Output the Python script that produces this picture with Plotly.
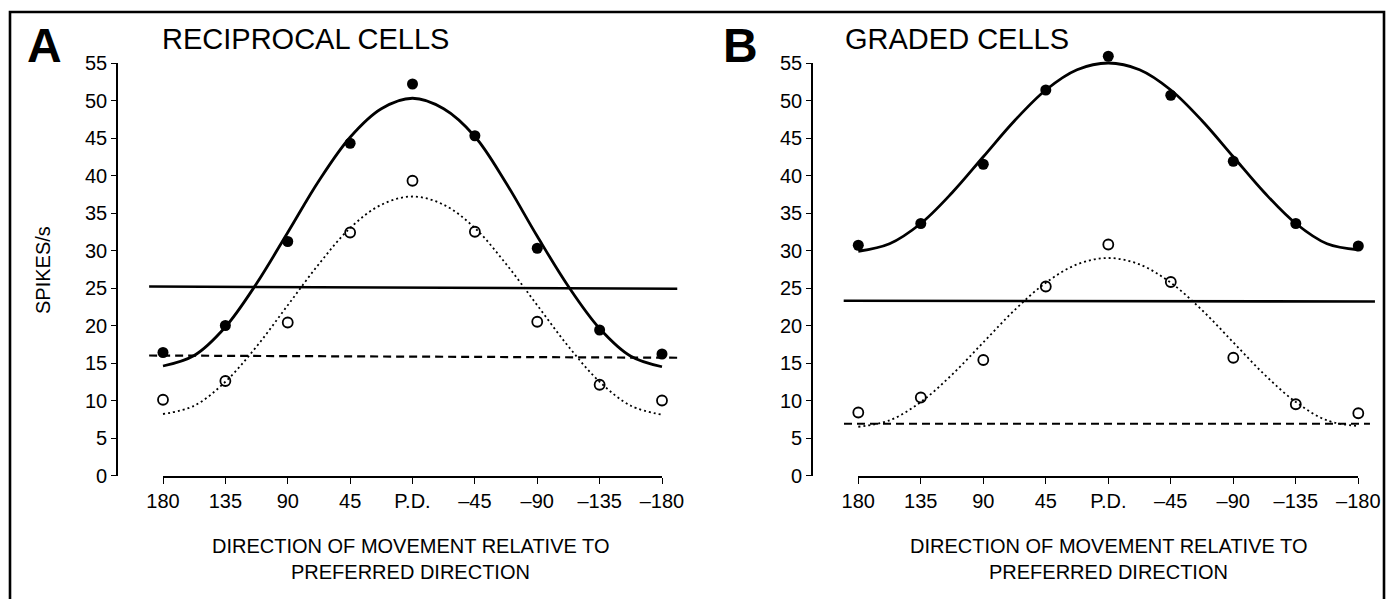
import plotly.graph_objects as go

# ---------------- data ----------------
directions = [180, 135, 90, 45, 0, -45, -90, -135, -180]
tick_text = ["180", "135", "90", "45", "P.D.", "–45", "–90", "–135", "–180"]
fit_dirs = [180, 157.5, 135, 112.5, 90, 67.5, 45, 22.5, 0,
            -22.5, -45, -67.5, -90, -112.5, -135, -157.5, -180]

# Panel A: reciprocal cells
a_filled = [16.4, 20.0, 31.2, 44.3, 52.2, 45.3, 30.3, 19.4, 16.2]
a_open = [10.1, 12.6, 20.4, 32.4, 39.3, 32.5, 20.5, 12.1, 10.0]
a_fit_solid = [14.6, 16.0, 19.8, 25.6, 32.4, 39.3, 45.1, 48.9, 50.3,
               48.9, 45.2, 39.0, 31.9, 25.2, 19.6, 15.9, 14.5]
a_fit_dotted = [8.2, 9.3, 12.5, 17.2, 22.7, 28.2, 33.0, 36.1, 37.2,
                36.1, 33.0, 28.2, 22.7, 17.2, 12.5, 9.3, 8.1]
a_hline_x = [190, -191]
a_solid_level = [25.2, 24.9]
a_dashed_level = [16.0, 15.7]

# Panel B: graded cells
b_filled = [30.7, 33.6, 41.5, 51.4, 55.9, 50.7, 41.9, 33.6, 30.6]
b_open = [8.4, 10.4, 15.4, 25.2, 30.8, 25.8, 15.7, 9.5, 8.3]
b_fit_solid = [29.9, 30.9, 33.6, 37.7, 42.5, 47.3, 51.4, 54.1, 55.0,
               54.1, 51.4, 47.3, 42.5, 37.7, 33.6, 30.9, 30.1]
b_fit_dotted = [6.5, 7.35, 9.8, 13.45, 17.75, 22.05, 25.7, 28.15, 29.0,
                28.15, 25.7, 22.05, 17.75, 13.45, 9.8, 7.35, 6.6]
b_hline_x = [190.5, -192]
b_solid_level = [23.3, 23.2]
b_dashed_x = [190.3, -188.4]
b_dashed_level = [6.9, 6.9]

# ---------------- layout geometry (pixels) ----------------
W, H = 1395, 599
FONT = "Liberation Sans"

def xf(px):
    return px / W

def yf(px):
    return 1 - px / H

panels = {
    "A": dict(x180=163.0, xm180=662.0, yaxis_px=117.0),
    "B": dict(x180=858.3, xm180=1358.3, yaxis_px=812.0),
}
Y0_PX, Y55_PX = 475.5, 63.0
XAXIS_PX = 477.0
DATA_XR = (205, -205)
DATA_YR = (-3, 60)

fig = go.Figure()
layout = dict(
    width=W, height=H, margin=dict(l=0, r=0, t=0, b=0, autoexpand=False),
    paper_bgcolor="white", plot_bgcolor="rgba(0,0,0,0)",
    showlegend=False, font=dict(family=FONT, color="black"),
)

ypx_per_unit = (Y0_PX - Y55_PX) / 55.0

def add_panel(idx_vis, idx_data, geo, filled, opn, fit_s, fit_d,
              hx, hs, dx, dl):
    sv = "" if idx_vis == 1 else str(idx_vis)
    sd = str(idx_data)
    xpx_per_deg = (geo["xm180"] - geo["x180"]) / 360.0
    # visible axes
    layout["xaxis" + sv] = dict(
        domain=[xf(geo["x180"]), xf(geo["xm180"])], range=[180, -180],
        anchor="free", position=yf(XAXIS_PX),
        showline=True, linecolor="black", linewidth=1.6,
        ticks="outside", ticklen=6, tickwidth=1.4, tickcolor="black",
        tickvals=directions, ticktext=tick_text,
        tickfont=dict(size=20, family=FONT, color="black"),
        showgrid=False, zeroline=False, fixedrange=True, automargin=False,
    )
    layout["yaxis" + sv] = dict(
        domain=[yf(Y0_PX), yf(Y55_PX)], range=[0, 55],
        anchor="free", position=xf(geo["yaxis_px"]),
        showline=True, linecolor="black", linewidth=1.6,
        ticks="outside", ticklen=5, tickwidth=1.4, tickcolor="black",
        tickvals=list(range(0, 56, 5)),
        tickfont=dict(size=20, family=FONT, color="black"),
        showgrid=False, zeroline=False, fixedrange=True, automargin=False,
    )
    fig.add_trace(go.Scatter(x=[], y=[], xaxis="x" + sv, yaxis="y" + sv,
                             hoverinfo="skip"))
    # data axes (hidden), same scale as visible axes
    left = geo["x180"] - (DATA_XR[0] - 180) * xpx_per_deg
    right = geo["xm180"] + (-180 - DATA_XR[1]) * xpx_per_deg
    bottom = Y0_PX - DATA_YR[0] * ypx_per_unit
    top = Y0_PX - DATA_YR[1] * ypx_per_unit
    layout["xaxis" + sd] = dict(domain=[xf(left), xf(right)], range=list(DATA_XR),
                                visible=False, anchor="y" + sd, fixedrange=True)
    layout["yaxis" + sd] = dict(domain=[yf(bottom), yf(top)], range=list(DATA_YR),
                                visible=False, anchor="x" + sd, fixedrange=True)
    xa, ya = "x" + sd, "y" + sd
    fig.add_trace(go.Scatter(x=hx, y=hs, mode="lines", xaxis=xa, yaxis=ya,
                             line=dict(color="black", width=2.6)))
    fig.add_trace(go.Scatter(x=dx, y=dl, mode="lines", xaxis=xa, yaxis=ya,
                             line=dict(color="black", width=2.2, dash="8px,5px")))
    fig.add_trace(go.Scatter(x=fit_dirs, y=fit_d, mode="lines", xaxis=xa, yaxis=ya,
                             line=dict(color="black", width=1.8, dash="2px,3px",
                                       shape="spline", smoothing=1.0)))
    fig.add_trace(go.Scatter(x=fit_dirs, y=fit_s, mode="lines", xaxis=xa, yaxis=ya,
                             line=dict(color="black", width=2.8,
                                       shape="spline", smoothing=1.0)))
    fig.add_trace(go.Scatter(x=directions, y=opn, mode="markers", xaxis=xa, yaxis=ya,
                             cliponaxis=False,
                             marker=dict(symbol="circle-open", size=10, color="black",
                                         line=dict(width=1.8, color="black"))))
    fig.add_trace(go.Scatter(x=directions, y=filled, mode="markers", xaxis=xa, yaxis=ya,
                             cliponaxis=False,
                             marker=dict(symbol="circle", size=11, color="black")))

add_panel(1, 3, panels["A"], a_filled, a_open, a_fit_solid, a_fit_dotted,
          a_hline_x, a_solid_level, a_hline_x, a_dashed_level)
add_panel(2, 4, panels["B"], b_filled, b_open, b_fit_solid, b_fit_dotted,
          b_hline_x, b_solid_level, b_dashed_x, b_dashed_level)

def ann(text, x, y, size, xanchor="center", yanchor="middle", angle=0, bold=False):
    return dict(text=("<b>%s</b>" % text) if bold else text,
                x=xf(x), y=yf(y), xref="paper", yref="paper",
                xanchor=xanchor, yanchor=yanchor, showarrow=False,
                textangle=angle, font=dict(size=size, family=FONT, color="black"))

layout["annotations"] = [
    ann("A", 44, 45, 48, bold=True),
    ann("RECIPROCAL CELLS", 160, 39, 29, xanchor="left"),
    ann("B", 741, 45, 48, bold=True),
    ann("GRADED CELLS", 843, 39, 29, xanchor="left"),
    ann("SPIKES/s", 43, 270, 20, angle=-90),
    ann("DIRECTION OF MOVEMENT RELATIVE TO", 410, 546, 20),
    ann("PREFERRED DIRECTION", 410, 572, 20),
    ann("DIRECTION OF MOVEMENT RELATIVE TO", 1108, 546, 20),
    ann("PREFERRED DIRECTION", 1108, 572, 20),
]

# outer frame (top, left and right edges)
layout["shapes"] = [dict(
    type="path", xref="paper", yref="paper",
    path="M %f,%f L %f,%f L %f,%f L %f,%f" % (xf(10), yf(620), xf(10), yf(12),
                                               xf(1384), yf(12), xf(1384), yf(620)),
    line=dict(color="black", width=2.6),
)]

fig.update_layout(**layout)
fig.write_html(
    "out.html",
    config={"displayModeBar": False},
    post_script="document.body.style.margin='0px';document.body.style.overflow='hidden';",
)
